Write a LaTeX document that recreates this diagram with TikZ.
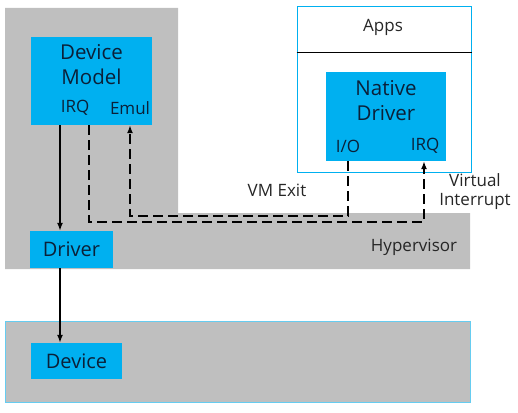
\documentclass[tikz,border=0pt]{standalone}
\usepackage{fontspec}
\setmainfont{Open Sans}
\usetikzlibrary{arrows.meta}
\definecolor{boxblue}{HTML}{00B0F0}
\definecolor{vmgray}{HTML}{BFBFBF}
\definecolor{edgeblue}{HTML}{66CCF0}
\definecolor{navytext}{HTML}{0B2038}
\begin{document}
\begin{tikzpicture}[x=1pt,y=-1pt,
        bluebox/.style={rectangle,fill=boxblue,inner sep=0pt,text=navytext},
        big/.style={font=\fontsize{20.5}{25}\selectfont},
        small/.style={font=\fontsize{17}{19}\selectfont},
        flow/.style={-{Latex[length=8pt,width=6pt]},line width=1.5pt},
        vmflow/.style={-{Latex[length=8pt,width=6pt]},line width=1.5pt,dash pattern=on 10pt off 5pt}]
    \useasboundingbox (0,0) rectangle (518,412);

    % service vm and hypervisor
    \fill [vmgray] (5,8) -- (178,8) -- (178,213) -- (470,213) -- (470,269) -- (5,269) -- cycle;
    \draw (414,247) node (hyp) [small,text=black!85] {Hypervisor};

    % hardware
    \draw (237.5,361.5) node (hw) [rectangle,fill=vmgray,draw=edgeblue,line width=0.8pt,minimum width=465pt,minimum height=81pt] {};
    \draw (76.5,361) node (dev) [bluebox,minimum width=91pt,minimum height=36pt,font=\fontsize{20}{24}\selectfont] {Device};

    % device model
    \draw (91.5,81) node (dm) [bluebox,minimum width=121pt,minimum height=88pt] {};
    \draw (91.5,64.5) node (dmName) [big,align=center,text=navytext] {Device\\Model};
    \draw (75,108) node (dmIRQ) [small,text=navytext] {IRQ};
    \draw (130,108) node (dmEmul) [small,text=navytext] {Emul};
    \draw (71.5,249.5) node (drv) [bluebox,minimum width=83pt,minimum height=37pt,font=\fontsize{20}{24}\selectfont] {Driver};

    % user vm
    \draw (384,89.5) node (uvm) [rectangle,draw=boxblue,line width=1pt,minimum width=174pt,minimum height=165pt] {};
    \draw (uvm.west |- 0,52) coordinate (sepL);
    \draw (uvm.east |- 0,52) coordinate (sepR);
    \draw [line width=0.8pt] (sepL) -- (sepR);
    \draw (383,27) node (apps) [small,text=black!85] {Apps};
    \draw (386,116.5) node (nd) [bluebox,minimum width=120pt,minimum height=89pt] {};
    \draw (386,101) node (ndName) [big,align=center,text=navytext] {Native\\Driver};
    \draw (348,146) node (ndIO) [small,text=navytext] {I/O};
    \draw (425,146) node (ndIRQ) [small,text=navytext] {IRQ};

    % connectors
    \draw (60,0) coordinate (col);
    \draw [flow] (col |- dm.south) -- (col |- drv.north);
    \draw [flow] (col |- drv.south) -- (col |- dev.north);

    \draw (89,222) coordinate (irqLow);
    \draw (424,222) coordinate (irqHigh);
    \draw [vmflow] (irqLow |- dm.south) -- (irqLow) -- (irqHigh) -- (irqHigh |- nd.south);

    \draw (348,216) coordinate (exitLow);
    \draw (130,216) coordinate (exitHigh);
    \draw [vmflow] (exitLow |- nd.south) -- (exitLow) -- (exitHigh) -- (exitHigh |- dm.south);

    \draw (277,190) node (vmexit) [small,text=black!85] {VM Exit};
    \draw (475,192) node (virq) [small,align=center,text=black!85] {Virtual\\Interrupt};
\end{tikzpicture}
\end{document}
